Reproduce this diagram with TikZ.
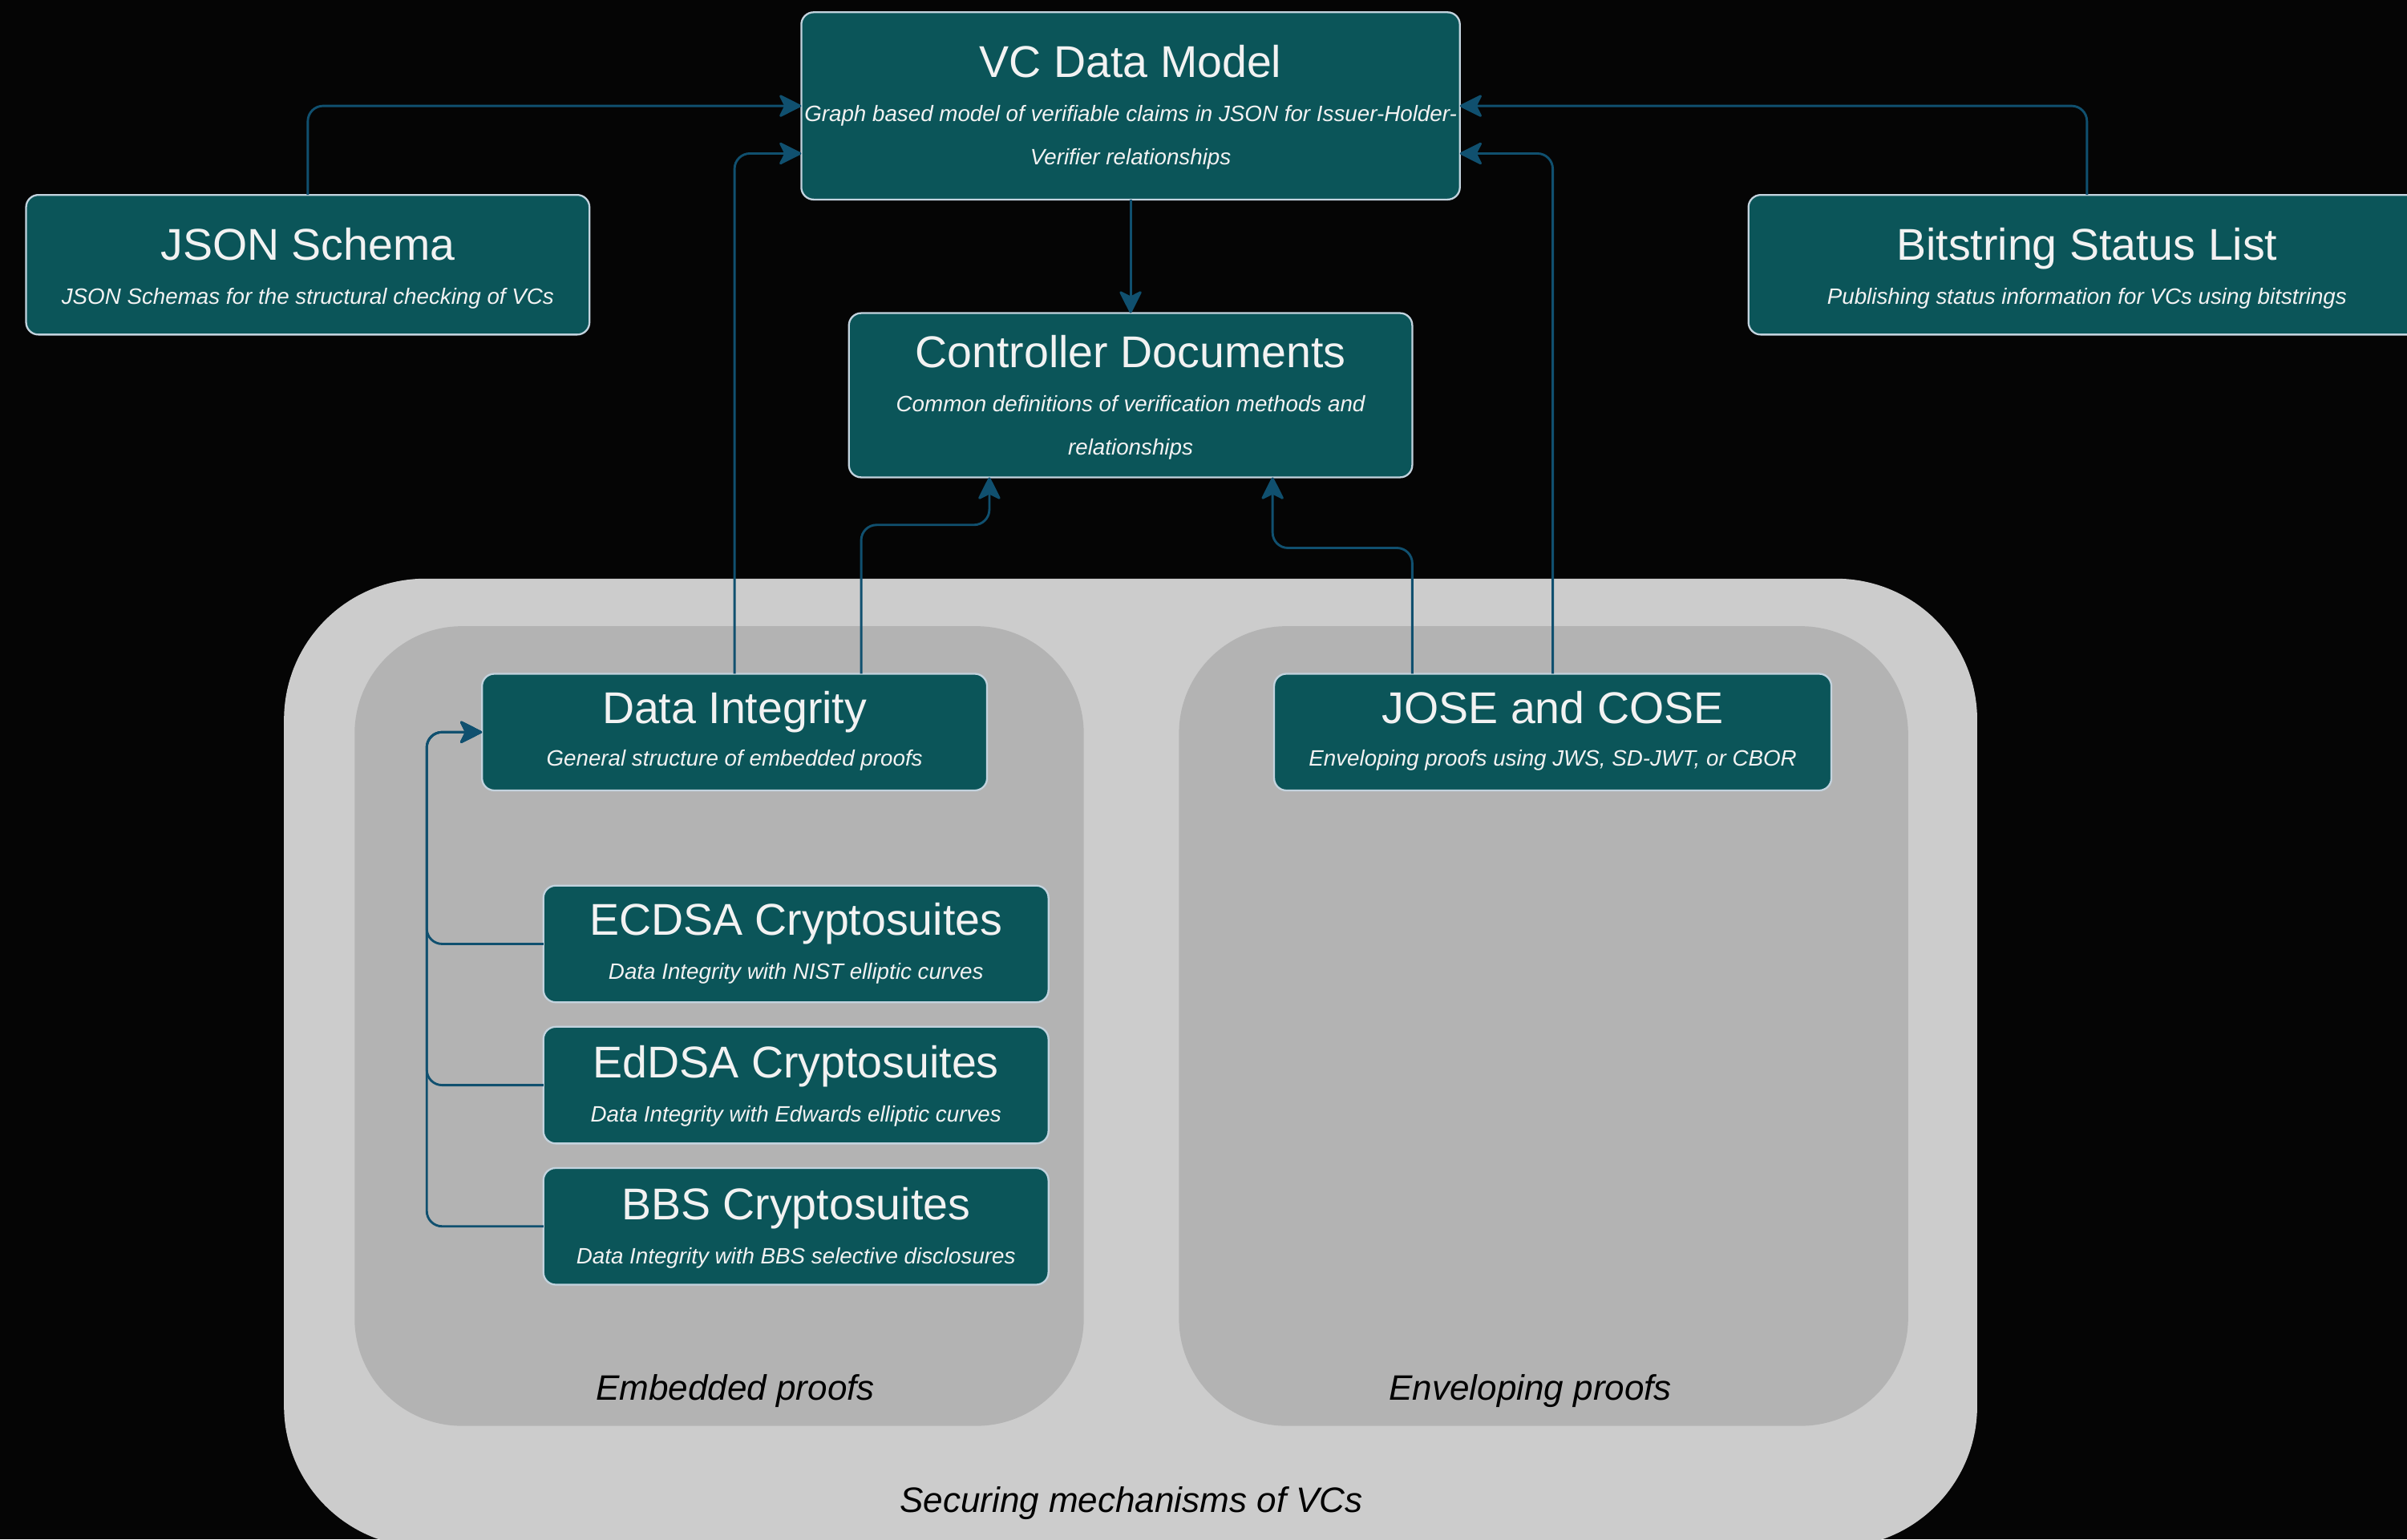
\documentclass[tikz,border=0pt]{standalone}
\usepackage{fontspec}
\setmainfont{Liberation Sans}
\usetikzlibrary{arrows.meta,calc}
\definecolor{bg}{HTML}{050505}
\definecolor{nodefill}{HTML}{0B5559}
\definecolor{nodeline}{HTML}{C3D3DE}
\definecolor{connc}{HTML}{10506F}
\definecolor{txt}{HTML}{F2F2F2}
\definecolor{outerg}{HTML}{CCCCCC}
\definecolor{innerg}{HTML}{B3B3B3}
\tikzset{
  box/.style={draw=nodeline, line width=1.2bp, fill=nodefill, rounded corners=8bp, inner sep=0pt, outer sep=0pt},
  ttl/.style={text=txt, font=\fontsize{29bp}{34bp}\selectfont, inner sep=0pt, text height=20.9bp, text depth=0pt},
  sub/.style={text=txt, font=\fontsize{14.5bp}{17bp}\selectfont\itshape, inner sep=0pt, text height=10.4bp, text depth=0pt},
  glabel/.style={text=black, font=\fontsize{23bp}{27bp}\selectfont\itshape, inner sep=0pt, text height=16.6bp, text depth=0pt},
  grp/.style={draw=none, inner sep=0pt, outer sep=0pt},
  link/.style={draw=connc, line width=1.5bp, rounded corners=10bp, -{Stealth[length=16bp,width=16bp,inset=4bp,round=false]}},
}
\begin{document}
\begin{tikzpicture}[x=1bp,y=-1bp]
\useasboundingbox (0,0) rectangle (1568,1003);
\fill[bg] (0,0) rectangle (1568,1003);
\begin{scope}
\clip (0,0) rectangle (1568,1003);
% groups
\node[grp, fill=outerg, rounded corners=92bp, minimum width=1103bp, minimum height=631bp] (secure) at (736.5,692.5) {};
\node[grp, fill=innerg, rounded corners=70bp, minimum width=475bp, minimum height=521bp] (emb) at (468.5,668.5) {};
\node[grp, fill=innerg, rounded corners=70bp, minimum width=475bp, minimum height=521bp] (env) at (1005.5,668.5) {};
\node[glabel] (emb-l) at (479,904) {Embedded proofs};
\node[glabel] (env-l) at (997,904) {Enveloping proofs};
\node[glabel] (secure-l) at (737,977) {Securing mechanisms of VCs};

% boxes
\node[box, minimum width=429bp, minimum height=122bp] (vc) at (736.5,69) {};
\node[box, minimum width=367bp, minimum height=91bp] (js) at (200.5,172.5) {};
\node[box, minimum width=441bp, minimum height=91bp] (bs) at (1359.5,172.5) {};
\node[box, minimum width=367bp, minimum height=107bp] (cd) at (736.5,257.5) {};
\node[box, minimum width=329bp, minimum height=76bp] (di) at (478.5,477) {};
\node[box, minimum width=363bp, minimum height=76bp] (jc) at (1011.5,477) {};
\node[box, minimum width=329bp, minimum height=76bp] (ec) at (518.5,615) {};
\node[box, minimum width=329bp, minimum height=76bp] (ed) at (518.5,707) {};
\node[box, minimum width=329bp, minimum height=76bp] (bb) at (518.5,799) {};

% texts
\node[ttl] (vc-t) at (736.5,40) {VC Data Model};
\node[sub] (vc-s1) at (736.5,74) {Graph based model of verifiable claims in JSON for Issuer-Holder-};
\node[sub] (vc-s2) at (736.5,102) {Verifier relationships};
\node[ttl] (js-t) at (200.5,159) {JSON Schema};
\node[sub] (js-s) at (200.5,193) {JSON Schemas for the structural checking of VCs};
\node[ttl] (bs-t) at (1359.5,159) {Bitstring Status List};
\node[sub] (bs-s) at (1359.5,193) {Publishing status information for VCs using bitstrings};
\node[ttl] (cd-t) at (736.5,229) {Controller Documents};
\node[sub] (cd-s1) at (736.5,263) {Common definitions of verification methods and};
\node[sub] (cd-s2) at (736.5,291) {relationships};
\node[ttl] (di-t) at (478.5,461) {Data Integrity};
\node[sub] (di-s) at (478.5,494) {General structure of embedded proofs};
\node[ttl] (jc-t) at (1011.5,461) {JOSE and COSE};
\node[sub] (jc-s) at (1011.5,494) {Enveloping proofs using JWS, SD-JWT, or CBOR};
\node[ttl] (ec-t) at (518.5,599) {ECDSA Cryptosuites};
\node[sub] (ec-s) at (518.5,633) {Data Integrity with NIST elliptic curves};
\node[ttl] (ed-t) at (518.5,692) {EdDSA Cryptosuites};
\node[sub] (ed-s) at (518.5,726) {Data Integrity with Edwards elliptic curves};
\node[ttl] (bb-t) at (518.5,784) {BBS Cryptosuites};
\node[sub] (bb-s) at (518.5,818) {Data Integrity with BBS selective disclosures};

% connectors
\draw[link] (js.north) |- (vc.west);
\draw[link] (bs.north) |- (vc.east);
\draw[link] (di.north) |- ($(vc.west)+(0,31)$);
\draw[link] (jc.north) |- ($(vc.east)+(0,31)$);
\draw[link] (vc.south) -- (cd.north);
\draw[link] ($(di.north)+(82.5,0)$) -- ++(0,-97) -| ($(cd.south)+(-92,0)$);
\draw[link] ($(jc.north)+(-91.5,0)$) -- ++(0,-82) -| ($(cd.south)+(92.5,0)$);
\draw[link] (ec.west) -- ++(-76,0) |- (di.west);
\draw[link] (ed.west) -- ++(-76,0) |- (di.west);
\draw[link] (bb.west) -- ++(-76,0) |- (di.west);
\end{scope}
\end{tikzpicture}
\end{document}
